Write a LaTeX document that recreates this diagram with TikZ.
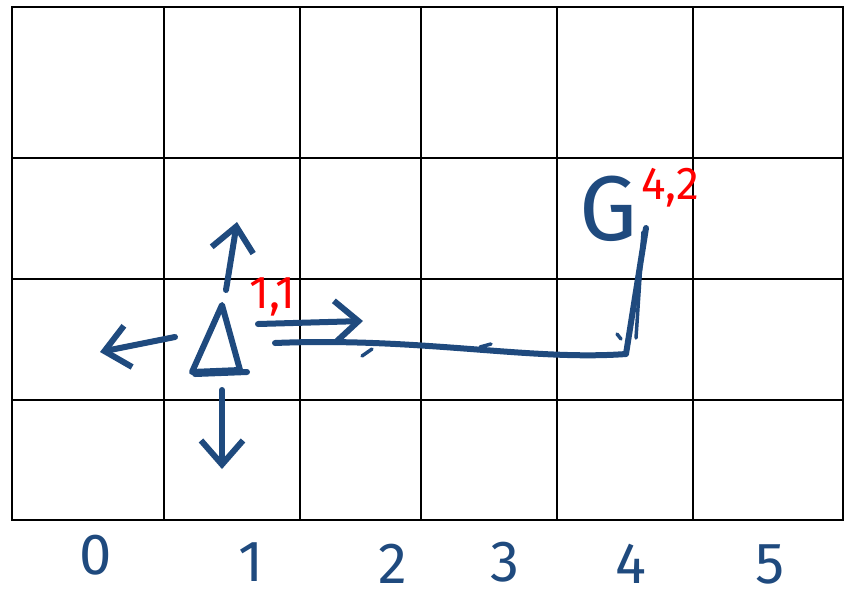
\documentclass[tikz,border=0pt]{standalone}
\usepackage{fontspec}
\setmainfont{Fira Sans}
\usetikzlibrary{arrows.meta}
\definecolor{pen}{RGB}{31,74,126}
\begin{document}
\begin{tikzpicture}[x=1pt,y=-1pt,gridline/.style={line width=2pt,black,line cap=rect},stroke/.style={line width=6pt,pen,line cap=round,line join=round},move/.style={stroke,-{Straight Barb[length=24pt,width=42pt]}},tick/.style={line width=3.5pt,pen,line cap=round},coordlabel/.style={text=red,font=\fontsize{46}{46}\selectfont,inner sep=0pt,anchor=base west},colnum/.style={text=pen,font=\fontsize{58}{58}\selectfont,inner sep=0pt}]
\useasboundingbox (0,0) rectangle (845,600);
% grid
\foreach \x in {12,164,300,421,557,693,843} \draw[gridline] (\x,7) -- (\x,520);
\foreach \y in {7,158,279,400,520} \draw[gridline] (12,\y) -- (843,\y);
% agent
\coordinate (top) at (222,305); \coordinate (botL) at (192,372); \coordinate (botR) at (240,370);
\draw[stroke] (top) -- (botL) -- (botR) -- cycle; \draw[stroke] (195,374) -- (247,372);
\coordinate (upS) at (226,290); \coordinate (upE) at (237,222);
\coordinate (leftS) at (175,337); \coordinate (leftE) at (100,352);
\coordinate (downS) at (222,390); \coordinate (downE) at (222,469);
\coordinate (rightS) at (258,324); \coordinate (rightE) at (363,321);
\draw[move] (upS) -- (upE); \draw[move] (leftS) -- (leftE); \draw[move] (downS) -- (downE); \draw[move] (rightS) -- (rightE);
% route to goal
\coordinate (p0) at (275,343); \coordinate (p1) at (626,354); \coordinate (p2) at (646,228);
\draw[stroke] (p0) .. controls (420,337) and (530,361) .. (p1) -- (p2);
\draw[tick] (636,338) -- (643,232);
\draw[tick] (362,356) -- (372,349); \draw[tick] (480,347) -- (491,344); \draw[tick] (617,334) -- (621,339);
\node[text=pen,font=\fontsize{92}{92}\selectfont,inner sep=0pt] (goal) at (609,209) {G};
% labels
\node[coordlabel] (startlbl) at (249,308) {1,1};
\node[coordlabel] (goallbl) at (641,199) {4,2};
\foreach \n/\x/\y in {0/96/555,1/251/562,2/393/564,3/505/562,4/631/564,5/770/564} \node[colnum] (col\n) at (\x,\y) {\n};
\end{tikzpicture}
\end{document}
